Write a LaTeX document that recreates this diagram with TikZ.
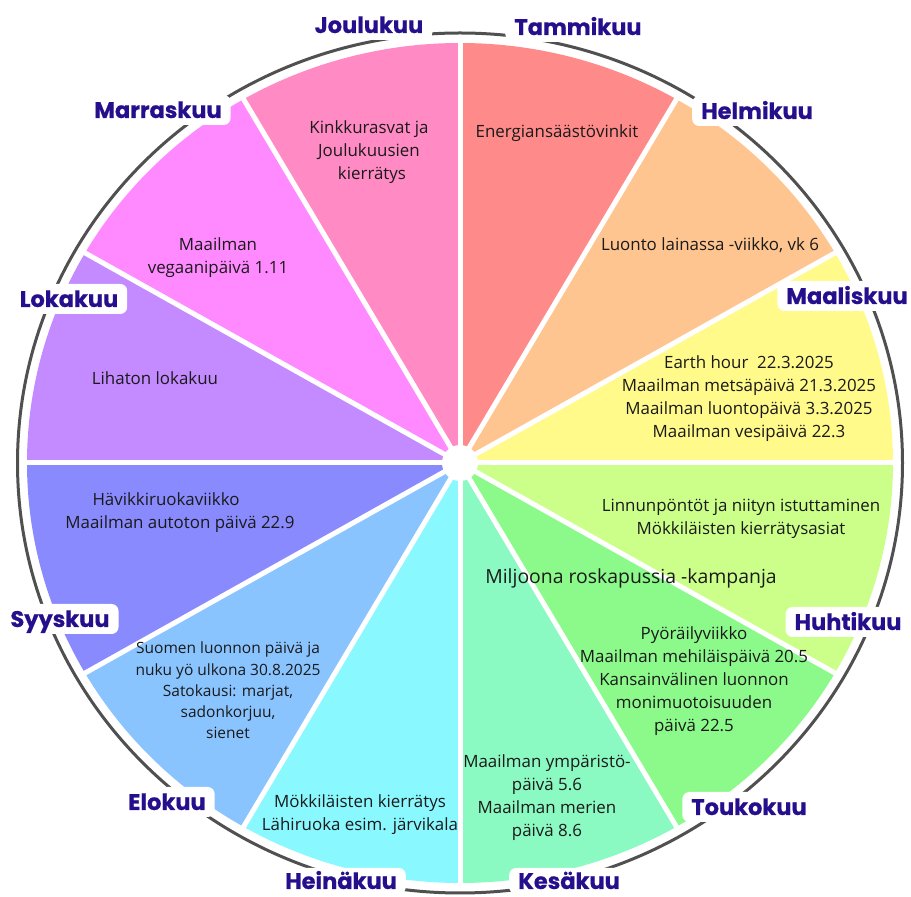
\documentclass[tikz,border=0pt]{standalone}
\usepackage{fontspec}
\setmainfont{Open Sans}
\newfontfamily\labfont{Poppins}[BoldFeatures={FakeBold=0.6}]
\definecolor{cA}{HTML}{FF8A8A}
\definecolor{cB}{HTML}{FFC590}
\definecolor{cC}{HTML}{FFFA8A}
\definecolor{cD}{HTML}{CCFF8A}
\definecolor{cE}{HTML}{8CFA8A}
\definecolor{cF}{HTML}{8AF9C2}
\definecolor{cG}{HTML}{8AF9FF}
\definecolor{cH}{HTML}{8AC4FF}
\definecolor{cI}{HTML}{8A8AFF}
\definecolor{cJ}{HTML}{C48AFF}
\definecolor{cK}{HTML}{FF8AFF}
\definecolor{cL}{HTML}{FF8AC4}
\definecolor{labcol}{HTML}{260F8C}
\definecolor{txtcol}{HTML}{1A1A1A}
\definecolor{ringcol}{HTML}{505050}
\begin{document}
\begin{tikzpicture}[x=1pt,y=1pt,
  lab/.style={font=\labfont\bfseries\fontsize{22.5}{24}\selectfont, text=labcol, fill=white,
    rounded corners=7pt, inner xsep=9pt, inner ysep=7pt, text height=16pt, text depth=0pt},
  txt/.style={font=\fontsize{16.9}{23}\selectfont, text=txtcol, align=center, inner sep=0pt},
  smalltxt/.style={font=\fontsize{15.5}{21.2}\selectfont, text=txtcol, align=center, inner sep=0pt},
  bigtxt/.style={font=\fontsize{19.4}{24}\selectfont, text=txtcol, align=center, inner sep=0pt},
  sep/.style={white, line width=5pt}]
\useasboundingbox (0,0) rectangle (911,897);
\fill[white] (0,0) rectangle (911,897);
\coordinate (c) at (460,434);
% sectors
\foreach \a/\col in {90/cA,60/cB,30/cC,0/cD,-30/cE,-60/cF,-90/cG,-120/cH,-150/cI,-180/cJ,-210/cK,-240/cL}{
  \fill[\col] (c) -- ++({433*cos(\a)},{420*sin(\a)})
    arc[start angle=\a, end angle=\a-30, x radius=433, y radius=420] -- cycle;
}
% separators
\foreach \a in {0,30,...,330}{
  \draw[sep] (c) -- ++({437*cos(\a)},{424*sin(\a)});
}
\fill[white] (c) circle[radius=18];
% ring
\draw[ringcol, line width=3pt] (c) ellipse[x radius=442.5, y radius=430];
% labels
\node[lab] (jou) at (369,872) {Joulukuu};
\node[lab] (tam) at (578,870) {Tammikuu};
\node[lab] (hel) at (757,786) {Helmikuu};
\node[lab] (maa) at (847,601) {Maaliskuu};
\node[lab] (huh) at (848,275) {Huhtikuu};
\node[lab] (tou) at (749,90) {Toukokuu};
\node[lab, inner ysep=5pt] (kes) at (569,16) {Kesäkuu};
\node[lab, inner ysep=5pt] (hei) at (341,16) {Heinäkuu};
\node[lab] (elo) at (167,95) {Elokuu};
\node[lab] (syy) at (60,278) {Syyskuu};
\node[lab] (lok) at (69,598) {Lokakuu};
\node[lab] (mar) at (158,787) {Marraskuu};
% texts
\node[txt] (tTam) at (557,764) {Energiansäästövinkit};
\node[txt] (tHel) at (710,652) {Luonto lainassa -viikko, vk 6};
\node[txt] (tMaa) at (749,498) {Earth hour\ \ 22.3.2025\\Maailman metsäpäivä 21.3.2025\\Maailman luontopäivä 3.3.2025\\Maailman vesipäivä 22.3};
\node[txt] (tHuh) at (741,378.5) {Linnunpöntöt ja niityn istuttaminen\\Mökkiläisten kierrätysasiat};
\node[bigtxt] (tMil) at (631,319) {Miljoona roskapussia -kampanja};
\node[txt] (tTou) at (694,216) {Pyöräilyviikko\\Maailman mehiläispäivä 20.5\\Kansainvälinen luonnon\\monimuotoisuuden\\päivä 22.5};
\node[txt] (tKes) at (547,99.5) {Maailman ympäristö-\\päivä 5.6\\Maailman merien\\päivä 8.6};
\node[txt] (tHei) at (360,82.5) {Mökkiläisten kierrätys\\Lähiruoka esim. järvikala};
\node[smalltxt] (tElo) at (228,206.5) {Suomen luonnon päivä ja\\nuku yö ulkona 30.8.2025\\Satokausi: marjat,\\sadonkorjuu,\\sienet};
\node[txt] (tSyy) at (180,384) {Hävikkiruokaviikko\hspace*{28pt}\\Maailman autoton päivä 22.9};
\node[txt] (tLok) at (155,519) {Lihaton lokakuu};
\node[txt] (tMar) at (218,639.5) {Maailman\\vegaanipäivä 1.11};
\node[txt] (tJou) at (369,745) {Kinkkurasvat ja\\Joulukuusien\\\hspace*{6pt}kierrätys};
\end{tikzpicture}
\end{document}
